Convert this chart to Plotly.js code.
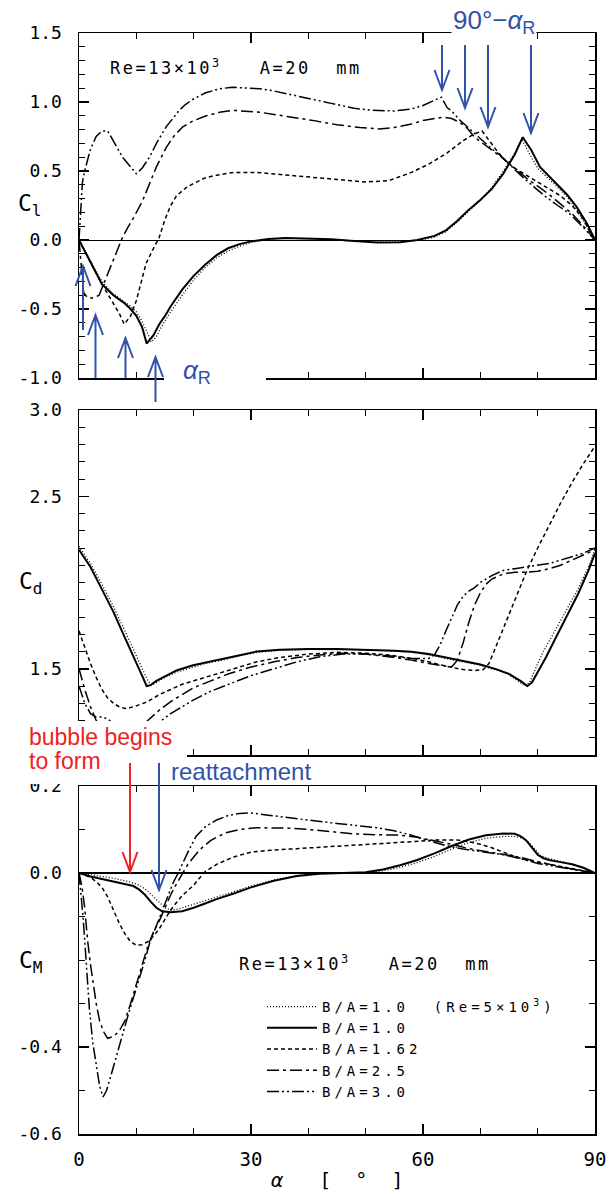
<!DOCTYPE html>
<html>
<head>
<meta charset="utf-8">
<script src="https://cdn.plot.ly/plotly-3.0.1.min.js"></script>
<style>
html,body{margin:0;padding:0;background:#fff;}
#plot{width:609px;height:1194px;}
.legendtext{letter-spacing:4px;}
g.annotation[data-index="0"] text, g.annotation[data-index="1"] text{letter-spacing:2.5px;}
</style>
</head>
<body>
<div id="plot"></div>
<script>
// ---------------- DATA ----------------
const seriesNames = ['B/A=1.0  (Re=5×10<sup>3</sup>)', 'B/A=1.0', 'B/A=1.62', 'B/A=2.5', 'B/A=3.0'];

// Lift coefficient Cl
const cl_a_re5 = [0,1,2,3,4,5,6,7,8,9,10,11,12,12.6,13.5,14.5,16,18,20,22,24,26,28,30,33,36,40,44,48,52,56,59,62,64,66,68,70,72,74,76,77.2,78.5,80,81.5,83,85,86.8,88.6,90];
const cl_re5   = [0,-0.07,-0.15,-0.23,-0.30,-0.35,-0.39,-0.42,-0.45,-0.48,-0.52,-0.59,-0.68,-0.74,-0.70,-0.62,-0.52,-0.40,-0.29,-0.20,-0.13,-0.08,-0.045,-0.018,0.004,0.012,0.01,0.003,-0.008,-0.016,-0.014,-0.003,0.02,0.06,0.13,0.21,0.29,0.38,0.50,0.63,0.73,0.63,0.52,0.46,0.40,0.32,0.22,0.10,0];
const cl_a_10  = [0,1,2,3,4,5,6,7,8,9,10,11,11.8,13,14,15,16,18,20,22,24,26,28,30,33,36,40,44,48,52,56,59,62,64,66,68,70,72,74,76,77.4,78.9,80.4,81.6,83.3,85.1,86.8,88.6,90];
const cl_10    = [0,-0.08,-0.17,-0.25,-0.32,-0.36,-0.40,-0.43,-0.46,-0.50,-0.55,-0.63,-0.75,-0.69,-0.61,-0.55,-0.48,-0.36,-0.26,-0.18,-0.11,-0.06,-0.03,-0.01,0.008,0.014,0.012,0.005,-0.008,-0.018,-0.016,0,0.03,0.07,0.14,0.22,0.29,0.37,0.48,0.62,0.745,0.65,0.53,0.48,0.41,0.33,0.24,0.12,0];
const cl_a_162 = [0,1,2,3,4,5,6,7,7.9,9,10,11,11.7,13,14,15,16,17,18.7,20,22,24,27,31,37,44,50,54,58,61,64,67,69,70.3,71.5,73,74.5,76,78,80,82,84,86,88,89.2,90];
const cl_162   = [0,-0.08,-0.17,-0.25,-0.32,-0.39,-0.46,-0.53,-0.61,-0.55,-0.44,-0.29,-0.17,-0.06,0.02,0.15,0.25,0.32,0.38,0.41,0.45,0.47,0.49,0.49,0.467,0.44,0.42,0.43,0.49,0.55,0.625,0.72,0.77,0.79,0.72,0.64,0.57,0.52,0.47,0.42,0.37,0.32,0.25,0.15,0.05,0];
const cl_a_25  = [0,0.3,0.8,1.5,2.5,3.5,4.4,5.5,6.5,7.6,8.5,9.5,11.1,12.3,13.5,15.2,16.5,18.1,20,22.2,24.5,26.8,29,31.5,34,37.3,41,45,49,52.4,55,58,60,63.5,65,66.5,67.8,69,70.5,72,74,76,78,80,82,84,86,88,90];
const cl_25    = [0,-0.15,-0.38,-0.42,-0.42,-0.40,-0.31,-0.2,-0.10,0.02,0.09,0.16,0.285,0.41,0.53,0.67,0.75,0.82,0.865,0.90,0.925,0.94,0.935,0.926,0.91,0.89,0.865,0.835,0.815,0.805,0.815,0.84,0.866,0.89,0.88,0.85,0.806,0.745,0.70,0.65,0.59,0.52,0.45,0.39,0.33,0.26,0.19,0.10,0];
const cl_a_30  = [0,0.3,0.6,1,2,3,4,5,6,7.6,10,11,12.3,13.5,15.2,16.5,17.5,18.5,19.9,22,24.5,26.8,29,31.5,34,36.1,40,44,48,51,55,58,60,61.7,63.2,64.2,65,66.4,68,70,72,73.3,75,77.4,79.5,81.5,83.5,85.6,88,90];
const cl_30    = [0,0.2,0.42,0.5,0.66,0.75,0.79,0.79,0.72,0.6,0.48,0.52,0.6,0.7,0.82,0.89,0.94,0.98,1.02,1.065,1.096,1.107,1.104,1.096,1.08,1.06,1.025,0.99,0.955,0.94,0.935,0.95,0.975,1.01,1.035,0.96,0.935,0.87,0.81,0.74,0.66,0.62,0.55,0.455,0.38,0.31,0.25,0.19,0.09,0];

// Drag coefficient Cd
const cd_a_re5 = [0,2,4,6,8,10,11,12,12.7,13.5,15,17,19.9,22,25,28,31,35,40,45,50,55,58,61,64,67,70,73,75,76.5,77.8,78.6,79.6,81,83,85,87,89,90];
const cd_re5   = [2.21,2.11,1.99,1.86,1.72,1.58,1.50,1.43,1.405,1.42,1.45,1.48,1.51,1.53,1.55,1.575,1.595,1.607,1.612,1.612,1.61,1.603,1.595,1.58,1.56,1.54,1.52,1.49,1.465,1.43,1.40,1.42,1.50,1.60,1.72,1.84,1.96,2.10,2.19];
const cd_a_10  = [0,2,4,6,8,10,11,11.8,12.5,13.5,15,17,19.9,22,25,28,31,35,40,45,50,55,58,61,64,67,70,73,75,77,78.2,79,80,81.5,83,85,87,89,90];
const cd_10    = [2.19,2.09,1.96,1.83,1.68,1.54,1.46,1.40,1.405,1.43,1.455,1.49,1.52,1.535,1.555,1.58,1.60,1.61,1.615,1.615,1.612,1.605,1.598,1.585,1.565,1.545,1.525,1.495,1.47,1.43,1.40,1.42,1.48,1.57,1.67,1.80,1.93,2.08,2.17];
const cd_a_162 = [0,1,2,3,4,5,6,7,8,9,10,12,14,16,18,20,22,25,28,31,35,40,45,50,54,58,61,64,67,69,70.5,71.5,72.5,74,76,78,80,82,84,86,88,90];
const cd_162   = [1.72,1.62,1.53,1.45,1.38,1.33,1.30,1.28,1.27,1.275,1.285,1.31,1.35,1.38,1.41,1.43,1.45,1.48,1.51,1.54,1.565,1.585,1.595,1.59,1.58,1.56,1.54,1.515,1.495,1.49,1.495,1.53,1.61,1.73,1.9,2.06,2.2,2.33,2.46,2.58,2.69,2.79];
const cd_a_25  = [0,1,2,3,4,6,8,10,12,14,16,18,20,23,26,30,34,38,42,46,50,54,58,61,63,65,66,67,68,69,70,71,72,74,76,78,80,82,84,86,88,90];
const cd_25    = [1.50,1.38,1.28,1.20,1.15,1.11,1.11,1.14,1.20,1.26,1.31,1.35,1.39,1.43,1.47,1.51,1.54,1.565,1.58,1.59,1.585,1.57,1.55,1.53,1.52,1.51,1.55,1.65,1.77,1.87,1.94,1.99,2.02,2.05,2.06,2.06,2.065,2.08,2.10,2.13,2.16,2.19];
const cd_a_30  = [0,1,2,3,4,5,6,8,10,12,14,16,18,20,23,26,30,34,38,42,46,50,54,58,61,62,63,64,65,66,67,68,69,70,72,74,76,78,80,82,84,86,88,90];
const cd_30    = [1.40,1.30,1.24,1.22,1.22,1.21,1.18,1.12,1.10,1.13,1.19,1.24,1.28,1.32,1.37,1.41,1.46,1.50,1.54,1.57,1.585,1.585,1.575,1.56,1.56,1.58,1.64,1.72,1.80,1.87,1.92,1.95,1.97,2.0,2.04,2.07,2.08,2.09,2.10,2.11,2.13,2.15,2.17,2.2];

// Moment coefficient CM
const cm_a_re5 = [0,2,4,6,8,10,11,12,13,14,15,16,17,18,20,22,24,27,30,34,38,42,46,50,53,56,59,62,65,68,71,74,76,77.5,78.5,79.5,80.5,82,84,86,88,90];
const cm_re5   = [0,-0.004,-0.008,-0.012,-0.018,-0.025,-0.032,-0.042,-0.055,-0.068,-0.08,-0.085,-0.084,-0.08,-0.072,-0.064,-0.055,-0.043,-0.03,-0.016,-0.006,-0.001,0,0.001,0.005,0.013,0.024,0.038,0.055,0.07,0.08,0.084,0.084,0.08,0.07,0.055,0.04,0.033,0.027,0.02,0.012,0];
const cm_a_10  = [0,2,4,6,8,9.5,10.5,11.5,12.5,13.5,14.5,16,18,20,22,24,27,30,34,38,42,46,50,53,56,59,62,65,68,71,74,76,77,78,79,80,81,82,84,86,88,90];
const cm_10    = [0,-0.008,-0.014,-0.02,-0.025,-0.03,-0.038,-0.05,-0.066,-0.08,-0.088,-0.09,-0.088,-0.08,-0.07,-0.06,-0.047,-0.033,-0.018,-0.007,-0.002,0,0.002,0.008,0.018,0.03,0.045,0.062,0.077,0.087,0.091,0.09,0.085,0.075,0.058,0.042,0.034,0.03,0.025,0.02,0.012,0];
const cm_a_162 = [0,1,2,3,4,5,6,7,8,9,10,11,12,13,14,15,16,17,18,19,20,21,22,24,27,30,34,38,42,46,50,54,58,62,66,68,70,72,74,76,78,80,83,86,88,90];
const cm_162   = [0,-0.005,-0.01,-0.02,-0.033,-0.055,-0.085,-0.115,-0.14,-0.158,-0.166,-0.165,-0.158,-0.145,-0.128,-0.105,-0.085,-0.068,-0.052,-0.04,-0.028,-0.012,0.003,0.02,0.037,0.048,0.053,0.056,0.059,0.062,0.065,0.068,0.072,0.076,0.076,0.072,0.066,0.058,0.048,0.038,0.03,0.025,0.018,0.011,0.006,0];
const cm_a_25  = [0,0.5,1,1.5,2,2.5,3,3.6,4.3,5,6,7,8,9,10,11,12,13,14,15,16,17,18,19,21,23,25.5,28,31,34,37,40,44,48,52,56,59,62,65,68,71,74,77,80,83,86,88,90];
const cm_25    = [0,-0.03,-0.08,-0.155,-0.21,-0.26,-0.3,-0.34,-0.365,-0.38,-0.376,-0.364,-0.34,-0.3,-0.255,-0.21,-0.168,-0.135,-0.11,-0.08,-0.05,-0.025,-0.002,0.02,0.053,0.075,0.092,0.1,0.104,0.104,0.103,0.1,0.095,0.09,0.088,0.087,0.082,0.074,0.066,0.056,0.049,0.043,0.036,0.026,0.017,0.009,0.004,0];
const cm_a_30  = [0,0.3,0.7,1,1.4,1.8,2.4,3,3.6,4.2,4.8,5.3,6,7,8,8.8,10,10.6,11.5,12.3,13.5,14.6,15.5,16.4,17.3,18.1,19,20.4,22,24,26,28,30,33,37,41,45,49,52,55,58,61,64,67,70,74,77,80,83,86,88,90];
const cm_30    = [0,-0.04,-0.1,-0.155,-0.24,-0.31,-0.39,-0.44,-0.49,-0.515,-0.5,-0.478,-0.445,-0.4,-0.355,-0.316,-0.265,-0.24,-0.2,-0.162,-0.12,-0.085,-0.05,-0.023,0,0.023,0.048,0.084,0.106,0.122,0.132,0.137,0.138,0.133,0.126,0.12,0.114,0.109,0.104,0.097,0.087,0.074,0.063,0.055,0.049,0.042,0.033,0.022,0.015,0.008,0.004,0];

// tick labels
const xTickVals = [0,30,60,90];
const xTickText = ['0','30','60','90'];
const clTickVals = [-1,-0.5,0,0.5,1,1.5];
const clTickText = ['-1.0','-0.5','0.0','0.5','1.0','1.5'];
const cdTickVals = [1.5,2.5,3];
const cdTickText = ['1.5','2.5','3.0'];
const cmTickVals = [-0.6,-0.4,0,0.2];
const cmTickText = ['-0.6','-0.4','0.0','0.2'];

// ---------------- LAYOUT HELPERS ----------------
const L = 79, R = 595, T = 33, B = 1134;
const px = x => (x - L) / (R - L);
const py = y => (B - y) / (B - T);

const lineStyles = [
  {dash:'1px,2px', width:1.3},
  {dash:'solid', width:2},
  {dash:'4px,3px', width:1.5},
  {dash:'12px,4px,3px,4px', width:1.5},
  {dash:'12px,3px,2px,3px,2px,3px', width:1.5}
];

const panels = [
  {xa:'x',  ya:'y',  xs:[cl_a_re5,cl_a_10,cl_a_162,cl_a_25,cl_a_30], ys:[cl_re5,cl_10,cl_162,cl_25,cl_30], legend:false},
  {xa:'x2', ya:'y2', xs:[cd_a_re5,cd_a_10,cd_a_162,cd_a_25,cd_a_30], ys:[cd_re5,cd_10,cd_162,cd_25,cd_30], legend:false},
  {xa:'x3', ya:'y3', xs:[cm_a_re5,cm_a_10,cm_a_162,cm_a_25,cm_a_30], ys:[cm_re5,cm_10,cm_162,cm_25,cm_30], legend:true}
];

const traces = [];
panels.forEach(p => {
  for (let i = 0; i < 5; i++) {
    traces.push({
      type:'scatter', mode:'lines',
      x:p.xs[i], y:p.ys[i], xaxis:p.xa, yaxis:p.ya,
      name:seriesNames[i], showlegend:p.legend,
      line:{color:'black', width:lineStyles[i].width, dash:lineStyles[i].dash},
      hoverinfo:'skip'
    });
  }
});

const mono = 'DejaVu Sans Mono, Liberation Mono, monospace';
const sans = 'Liberation Sans, Arial, sans-serif';

function xAxis(anchor, labels) {
  return {
    anchor:anchor, domain:[0,1], range:[0,90], showgrid:false, zeroline:false,
    showline:true, linecolor:'black', linewidth:1.5, mirror:'ticks',
    ticks:'inside', ticklen:10, tickwidth:1.5, tickcolor:'black',
    tickvals:xTickVals, ticktext:xTickText, showticklabels:labels,
    tickfont:{family:mono, size:19, color:'black'}, ticklabelstandoff:8,
    minor:{dtick:10, tick0:0, ticks:'inside', ticklen:6, tickwidth:1, tickcolor:'black'}
  };
}
function yAxis(anchor, dom, range, tv, tt, zl, zlw) {
  return {
    anchor:anchor, domain:dom, range:range, showgrid:false,
    zeroline:zl, zerolinecolor:'black', zerolinewidth:zlw,
    showline:true, linecolor:'black', linewidth:1.5, mirror:'ticks',
    ticks:'inside', ticklen:10, tickwidth:1.5, tickcolor:'black',
    tickvals:tv, ticktext:tt, tickfont:{family:mono, size:18, color:'black'},
    ticklabelstandoff:12,
    minor:{dtick:0.1, ticks:'inside', ticklen:6, tickwidth:1, tickcolor:'black'}
  };
}

const blue = '#3152a8';
const red = '#ee2222';

function arrow(x, y0, y1, color) {
  const dir = y1 > y0 ? 1 : -1;
  const hw = 7.5, hl = 20;
  return {
    type:'path', xref:'paper', yref:'paper', layer:'above',
    path:`M${px(x)},${py(y0)} L${px(x)},${py(y1)} M${px(x-hw)},${py(y1-dir*hl)} L${px(x)},${py(y1)} L${px(x+hw)},${py(y1-dir*hl)}`,
    line:{color:color, width:2}
  };
}
function whiteRect(x0, y0, x1, y1) {
  return {type:'rect', xref:'paper', yref:'paper', layer:'above',
    x0:px(x0), x1:px(x1), y0:py(y1), y1:py(y0), fillcolor:'white', line:{width:0}};
}

const shapes = [
  whiteRect(0, 721, 187, 784),
  whiteRect(164, 366, 266, 390),
  arrow(442, 45, 90, blue), arrow(465, 45, 108, blue), arrow(488, 45, 127, blue), arrow(531, 45, 133, blue),
  arrow(83, 330, 266, blue), arrow(95.5, 378, 315, blue), arrow(125.5, 378, 338, blue), arrow(155.5, 402, 357, blue),
  arrow(130, 763, 872, red), arrow(159, 763, 890, blue)
];

function ann(text, x, y, opt) {
  return Object.assign({text:text, xref:'paper', yref:'paper', x:px(x), y:py(y),
    showarrow:false, xanchor:'center', yanchor:'middle',
    font:{family:mono, size:17, color:'black'}}, opt || {});
}

const annotations = [
  ann('Re=13×10<sup>3</sup>   A=20  mm', 133, 67, {xanchor:'left'}),
  ann('Re=13×10<sup>3</sup>   A=20  mm', 262, 963, {xanchor:'left'}),
  ann('C<sub>l</sub>', 30, 205, {font:{family:mono, size:23, color:'black'}}),
  ann('C<sub>d</sub>', 31, 583, {font:{family:mono, size:23, color:'black'}}),
  ann('C<sub>M</sub>', 31, 962, {font:{family:mono, size:23, color:'black'}}),
  ann('90°−<i>α</i><sub>R</sub>', 494, 21, {font:{family:sans, size:26, color:blue}, bgcolor:'white'}),
  ann('<i>α</i><sub>R</sub>', 197, 371, {font:{family:sans, size:26, color:blue}}),
  ann('bubble begins', 27, 737, {xanchor:'left', font:{family:sans, size:23, color:red}}),
  ann('to form', 27, 761, {xanchor:'left', font:{family:sans, size:23, color:red}}),
  ann('reattachment', 169, 771, {xanchor:'left', font:{family:sans, size:24, color:blue}}),
  ann('<i>α</i>   [  °  ]', 337, 1180, {font:{family:mono, size:20, color:'black'}})
];

const layout = {
  width:609, height:1194,
  margin:{l:L, r:609-R, t:T, b:1194-B},
  paper_bgcolor:'white', plot_bgcolor:'white',
  showlegend:true,
  legend:{x:px(262), y:py(991), xanchor:'left', yanchor:'top', bgcolor:'rgba(0,0,0,0)',
    font:{family:mono, size:14, color:'black'}, tracegroupgap:0, itemwidth:50},
  xaxis: xAxis('y', false),
  xaxis2: xAxis('y2', false),
  xaxis3: xAxis('y3', true),
  yaxis: yAxis('x', [py(378), 1], [-1, 1.5], clTickVals, clTickText, true, 1),
  yaxis2: yAxis('x2', [py(755), py(410)], [1.0, 3.0], cdTickVals, cdTickText, false, 1),
  yaxis3: yAxis('x3', [0, py(786)], [-0.6, 0.2], cmTickVals, cmTickText, true, 1.6),
  shapes:shapes,
  annotations:annotations
};

Plotly.newPlot('plot', traces, layout, {staticPlot:true, displayModeBar:false});
</script>
</body>
</html>
